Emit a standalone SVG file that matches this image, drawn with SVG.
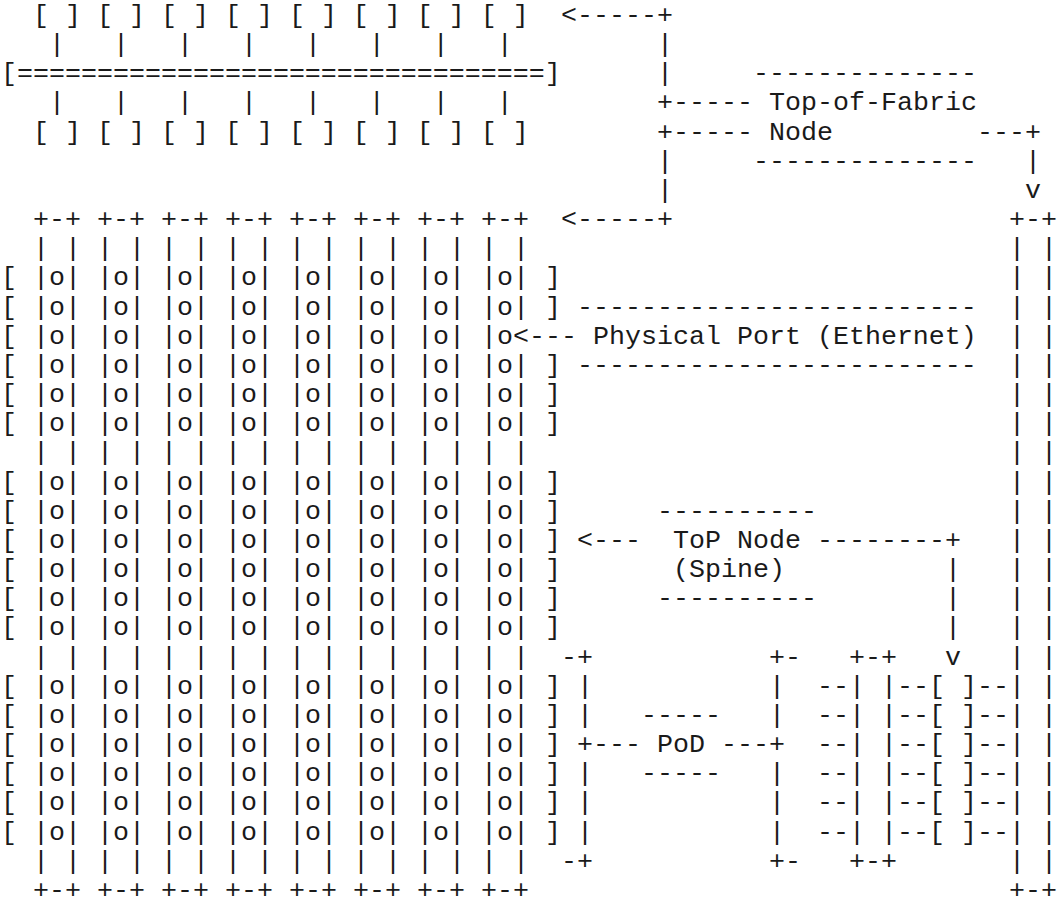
<svg xmlns="http://www.w3.org/2000/svg" xmlns:xlink="http://www.w3.org/1999/xlink" width="1057" height="908" viewBox="0 0 1057 908" xml:space="preserve">
<style>
text { font-family: "Liberation Mono", "Courier New", "DejaVu Sans Mono", monospace; font-size: 26.67px; fill: #1a1a1a; white-space: pre; }
</style>
<defs>
<text id="rack"><tspan x="0" y="230.61">+-+</tspan><tspan x="0" dy="29.33">| |</tspan><tspan x="0" dy="29.33">|o|</tspan><tspan x="0" dy="29.33">|o|</tspan><tspan x="0" dy="29.33">|o|</tspan><tspan x="0" dy="29.33">|o|</tspan><tspan x="0" dy="29.33">|o|</tspan><tspan x="0" dy="29.33">|o|</tspan><tspan x="0" dy="29.33">| |</tspan><tspan x="0" dy="29.33">|o|</tspan><tspan x="0" dy="29.33">|o|</tspan><tspan x="0" dy="29.33">|o|</tspan><tspan x="0" dy="29.33">|o|</tspan><tspan x="0" dy="29.33">|o|</tspan><tspan x="0" dy="29.33">|o|</tspan><tspan x="0" dy="29.33">| |</tspan><tspan x="0" dy="29.33">|o|</tspan><tspan x="0" dy="29.33">|o|</tspan><tspan x="0" dy="29.33">|o|</tspan><tspan x="0" dy="29.33">|o|</tspan><tspan x="0" dy="29.33">|o|</tspan><tspan x="0" dy="29.33">|o|</tspan><tspan x="0" dy="29.33">| |</tspan><tspan x="0" dy="29.33">+-+</tspan></text>
</defs>

<g transform="translate(-3.7,-2.16) scale(1,0.99443)">
<g id="tof-switch">
<text><tspan x="36.7" y="25.3">[ ] [ ] [ ] [ ] [ ] [ ] [ ] [ ]</tspan><tspan x="52.7" y="54.63">|   |   |   |   |   |   |   |</tspan><tspan x="4.7" y="83.96">[=================================]</tspan><tspan x="52.7" y="113.29">|   |   |   |   |   |   |   |</tspan><tspan x="36.7" y="142.62">[ ] [ ] [ ] [ ] [ ] [ ] [ ] [ ]</tspan></text>
</g>

<g id="tof-label">
<text><tspan x="756.7" y="83.96">--------------</tspan><tspan x="772.7" y="113.29">Top-of-Fabric</tspan><tspan x="772.7" y="142.62">Node</tspan><tspan x="756.7" y="171.95">--------------</tspan></text>
</g>

<g id="top-node-1"><use xlink:href="#rack" x="36.7"/></g>
<g id="top-node-2"><use xlink:href="#rack" x="100.7"/></g>
<g id="top-node-3"><use xlink:href="#rack" x="164.7"/></g>
<g id="top-node-4"><use xlink:href="#rack" x="228.7"/></g>
<g id="top-node-5"><use xlink:href="#rack" x="292.7"/></g>
<g id="top-node-6"><use xlink:href="#rack" x="356.7"/></g>
<g id="top-node-7"><use xlink:href="#rack" x="420.7"/></g>
<g id="top-node-8">
<text><tspan x="484.7" y="230.61">+-+</tspan><tspan x="484.7" dy="29.33">| |</tspan><tspan x="484.7" dy="29.33">|o|</tspan><tspan x="484.7" dy="29.33">|o|</tspan><tspan x="484.7" dy="29.33">|o</tspan><tspan x="484.7" dy="29.33">|o|</tspan><tspan x="484.7" dy="29.33">|o|</tspan><tspan x="484.7" dy="29.33">|o|</tspan><tspan x="484.7" dy="29.33">| |</tspan><tspan x="484.7" dy="29.33">|o|</tspan><tspan x="484.7" dy="29.33">|o|</tspan><tspan x="484.7" dy="29.33">|o|</tspan><tspan x="484.7" dy="29.33">|o|</tspan><tspan x="484.7" dy="29.33">|o|</tspan><tspan x="484.7" dy="29.33">|o|</tspan><tspan x="484.7" dy="29.33">| |</tspan><tspan x="484.7" dy="29.33">|o|</tspan><tspan x="484.7" dy="29.33">|o|</tspan><tspan x="484.7" dy="29.33">|o|</tspan><tspan x="484.7" dy="29.33">|o|</tspan><tspan x="484.7" dy="29.33">|o|</tspan><tspan x="484.7" dy="29.33">|o|</tspan><tspan x="484.7" dy="29.33">| |</tspan><tspan x="484.7" dy="29.33">+-+</tspan></text>
</g>

<g id="plane-brackets">
<text><tspan x="4.7" y="289.27">[</tspan><tspan x="4.7" dy="29.33">[</tspan><tspan x="4.7" dy="29.33">[</tspan><tspan x="4.7" dy="29.33">[</tspan><tspan x="4.7" dy="29.33">[</tspan><tspan x="4.7" dy="29.33">[</tspan><tspan x="4.7" y="494.58">[</tspan><tspan x="4.7" dy="29.33">[</tspan><tspan x="4.7" dy="29.33">[</tspan><tspan x="4.7" dy="29.33">[</tspan><tspan x="4.7" dy="29.33">[</tspan><tspan x="4.7" dy="29.33">[</tspan><tspan x="4.7" y="699.89">[</tspan><tspan x="4.7" dy="29.33">[</tspan><tspan x="4.7" dy="29.33">[</tspan><tspan x="4.7" dy="29.33">[</tspan><tspan x="4.7" dy="29.33">[</tspan><tspan x="4.7" dy="29.33">[</tspan></text>
<text><tspan x="548.7" y="289.27">]</tspan><tspan x="548.7" y="318.6">]</tspan><tspan x="548.7" y="377.26">]</tspan><tspan x="548.7" dy="29.33">]</tspan><tspan x="548.7" dy="29.33">]</tspan><tspan x="548.7" y="494.58">]</tspan><tspan x="548.7" dy="29.33">]</tspan><tspan x="548.7" dy="29.33">]</tspan><tspan x="548.7" dy="29.33">]</tspan><tspan x="548.7" dy="29.33">]</tspan><tspan x="548.7" dy="29.33">]</tspan><tspan x="548.7" y="699.89">]</tspan><tspan x="548.7" dy="29.33">]</tspan><tspan x="548.7" dy="29.33">]</tspan><tspan x="548.7" dy="29.33">]</tspan><tspan x="548.7" dy="29.33">]</tspan><tspan x="548.7" dy="29.33">]</tspan></text>
</g>

<g id="physical-port-label">
<text><tspan x="580.7" y="318.6">-------------------------</tspan><tspan x="596.7" y="347.93">Physical Port (Ethernet)</tspan><tspan x="580.7" y="377.26">-------------------------</tspan></text>
</g>

<g id="top-node-label">
<text><tspan x="660.7" y="523.91">----------</tspan><tspan x="676.7" y="553.24">ToP Node</tspan><tspan x="676.7" y="582.57">(Spine)</tspan><tspan x="660.7" y="611.9">----------</tspan></text>
</g>

<g id="pod-bracket">
<text><tspan x="564.7" y="670.56">-+</tspan><tspan x="580.7" dy="29.33">|</tspan><tspan x="580.7" dy="29.33">|</tspan><tspan x="580.7" dy="29.33">+</tspan><tspan x="580.7" dy="29.33">|</tspan><tspan x="580.7" dy="29.33">|</tspan><tspan x="580.7" dy="29.33">|</tspan><tspan x="564.7" dy="29.33">-+</tspan></text>
<text><tspan x="772.7" y="670.56">+-</tspan><tspan x="772.7" dy="29.33">|</tspan><tspan x="772.7" dy="29.33">|</tspan><tspan x="772.7" dy="29.33">+</tspan><tspan x="772.7" dy="29.33">|</tspan><tspan x="772.7" dy="29.33">|</tspan><tspan x="772.7" dy="29.33">|</tspan><tspan x="772.7" dy="29.33">+-</tspan></text>
</g>

<g id="pod-label">
<text><tspan x="644.7" y="729.22">-----</tspan><tspan x="660.7" y="758.55">PoD</tspan><tspan x="644.7" y="787.88">-----</tspan></text>
</g>

<g id="pod-detail">
<text><tspan x="852.7" y="670.56">+-+</tspan><tspan x="820.7" dy="29.33">--| |--[ ]--</tspan><tspan x="820.7" dy="29.33">--| |--[ ]--</tspan><tspan x="820.7" dy="29.33">--| |--[ ]--</tspan><tspan x="820.7" dy="29.33">--| |--[ ]--</tspan><tspan x="820.7" dy="29.33">--| |--[ ]--</tspan><tspan x="820.7" dy="29.33">--| |--[ ]--</tspan><tspan x="852.7" dy="29.33">+-+</tspan></text>
</g>

<g id="spine-column">
<text><tspan x="1012.7" y="230.61">+-+</tspan><tspan x="1012.7" dy="29.33">| |</tspan><tspan x="1012.7" dy="29.33">| |</tspan><tspan x="1012.7" dy="29.33">| |</tspan><tspan x="1012.7" dy="29.33">| |</tspan><tspan x="1012.7" dy="29.33">| |</tspan><tspan x="1012.7" dy="29.33">| |</tspan><tspan x="1012.7" dy="29.33">| |</tspan><tspan x="1012.7" dy="29.33">| |</tspan><tspan x="1012.7" dy="29.33">| |</tspan><tspan x="1012.7" dy="29.33">| |</tspan><tspan x="1012.7" dy="29.33">| |</tspan><tspan x="1012.7" dy="29.33">| |</tspan><tspan x="1012.7" dy="29.33">| |</tspan><tspan x="1012.7" dy="29.33">| |</tspan><tspan x="1012.7" dy="29.33">| |</tspan><tspan x="1012.7" dy="29.33">| |</tspan><tspan x="1012.7" dy="29.33">| |</tspan><tspan x="1012.7" dy="29.33">| |</tspan><tspan x="1012.7" dy="29.33">| |</tspan><tspan x="1012.7" dy="29.33">| |</tspan><tspan x="1012.7" dy="29.33">| |</tspan><tspan x="1012.7" dy="29.33">| |</tspan><tspan x="1012.7" dy="29.33">+-+</tspan></text>
</g>

<g id="connectors">
<text><tspan x="564.7" y="25.3">&lt;-----+</tspan><tspan x="660.7" y="54.63">|</tspan><tspan x="660.7" y="83.96">|</tspan><tspan x="660.7" y="113.29">+-----</tspan><tspan x="660.7" y="142.62">+-----</tspan><tspan x="660.7" y="171.95">|</tspan><tspan x="660.7" y="201.28">|</tspan><tspan x="564.7" y="230.61">&lt;-----+</tspan></text>
<text><tspan x="980.7" y="142.62">---+</tspan><tspan x="1028.7" y="171.95">|</tspan><tspan x="1028.7" y="201.28">v</tspan></text>
<text><tspan x="516.7" y="347.93">&lt;---</tspan></text>
<text><tspan x="580.7" y="553.24">&lt;---</tspan><tspan x="820.7" y="553.24">--------+</tspan><tspan x="948.7" y="582.57">|</tspan><tspan x="948.7" y="611.9">|</tspan><tspan x="948.7" y="641.23">|</tspan><tspan x="948.7" y="670.56">v</tspan></text>
<text><tspan x="596.7" y="758.55">---</tspan><tspan x="724.7" y="758.55">---</tspan></text>
</g>
</g>
</svg>
